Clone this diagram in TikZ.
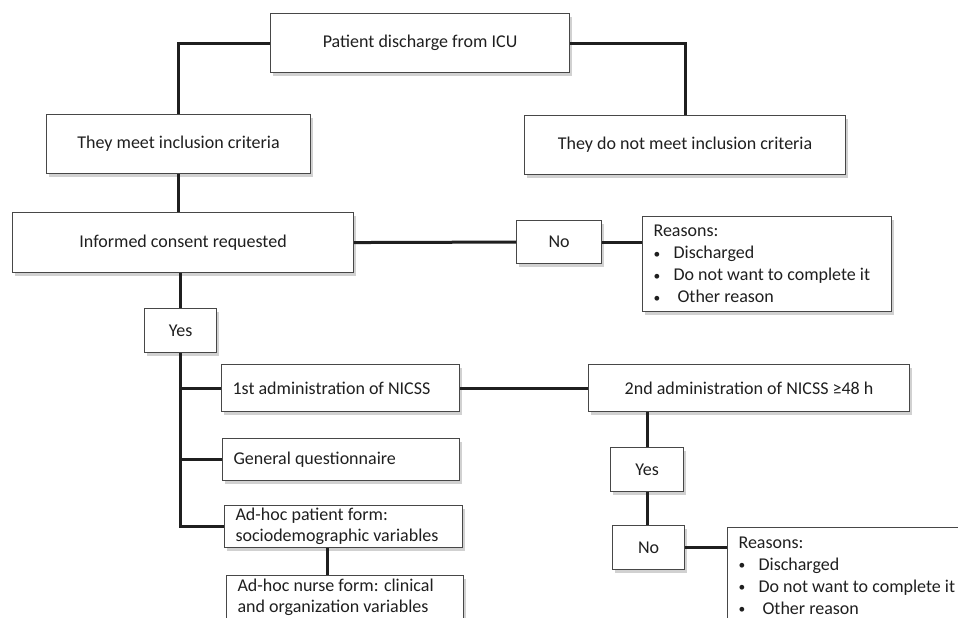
\documentclass[tikz,border=0pt]{standalone}
\usepackage{fontspec}
\setmainfont{Carlito}
\usetikzlibrary{shadows,calc}
\newcommand\rbul{\makebox[20pt][l]{\raisebox{0.5pt}{\scalebox{0.75}{\textbullet}}}}
\begin{document}
\begin{tikzpicture}[x=1pt,y=-1pt,
  box/.style={draw=black!72, line width=1.1pt, fill=white, inner sep=0pt,
    anchor=north west, text=black!88, font=\fontsize{18}{21}\selectfont,
    drop shadow={shadow xshift=2pt, shadow yshift=-3pt, opacity=0.18, fill=black}},
  lbox/.style={box, align=flush left, inner xsep=11pt},
  link/.style={line width=3pt, draw=black!88}]
\useasboundingbox[fill=white] (0,0) rectangle (958,618);

\node[box, minimum width=299pt, minimum height=59pt] (top) at (270,13) {Patient discharge from ICU};
\node[box, minimum width=264pt, minimum height=59pt] (meet) at (46,114) {They meet inclusion criteria};
\node[box, minimum width=321pt, minimum height=59pt] (notmeet) at (524,115) {They do not meet inclusion criteria};
\node[box, minimum width=341pt, minimum height=60pt] (consent) at (12,212) {Informed consent requested};
\node[box, minimum width=85pt, minimum height=43pt] (no1) at (516,220) {No};
\node[lbox, text width=227pt, minimum height=95pt, font=\fontsize{18}{22}\selectfont] (rs1) at (642,216)
  {Reasons:\\
   \rbul Discharged\\
   \rbul Do not want to complete it\\
   \rbul\hspace{4pt}Other reason};
\node[box, minimum width=72pt, minimum height=44pt] (yes1) at (144,308) {Yes};
\node[lbox, text width=216pt, minimum height=47pt] (adm1) at (221,364) {1st administration of NICSS};
\node[box, minimum width=321pt, minimum height=47pt] (adm2) at (588,364) {2nd administration of NICSS ≥48 h};
\node[lbox, text width=215pt, minimum height=42pt] (gq) at (222,438) {General questionnaire};
\node[lbox, text width=216pt, minimum height=42pt] (adp) at (224,505) {Ad-hoc patient form:\\sociodemographic variables};
\node[lbox, text width=215pt, minimum height=44pt] (adn) at (226,575) {Ad-hoc nurse form: clinical\\and organization variables};
\node[box, minimum width=73pt, minimum height=44pt] (yes2) at (610,447) {Yes};
\node[box, minimum width=72pt, minimum height=44pt] (no2) at (612,525) {No};
\node[lbox, text width=227pt, minimum height=96pt, font=\fontsize{18}{22}\selectfont] (rs2) at (727,527)
  {Reasons:\\
   \rbul Discharged\\
   \rbul Do not want to complete it\\
   \rbul\hspace{4pt}Other reason};

\draw[link] (top.west) -| (meet.north);
\draw[link] (top.east) -| (notmeet.north);
\draw[link] (meet.south) -- (meet.south |- consent.north);
\draw[link] (consent.east) -- (no1.west);
\draw[link] (no1.east) -- (no1.east -| rs1.west);
\draw[link] (yes1.north |- consent.south) -- (yes1.north);
\draw[link] (yes1.south) |- (adp.west);
\draw[link] (yes1.south |- adm1.west) -- (adm1.west);
\draw[link] (yes1.south |- gq.west) -- (gq.west);
\draw[link] (adm1.east) -- (adm2.west);
\draw[link] ([xshift=-16pt]adp.south) -- ([xshift=-16pt]adp.south |- adn.north);
\draw[link] (yes2.north) -- (yes2.north |- adm2.south);
\draw[link] (yes2.south) -- (yes2.south |- no2.north);
\draw[link] (no2.east) -- (no2.east -| rs2.west);
\end{tikzpicture}
\end{document}
